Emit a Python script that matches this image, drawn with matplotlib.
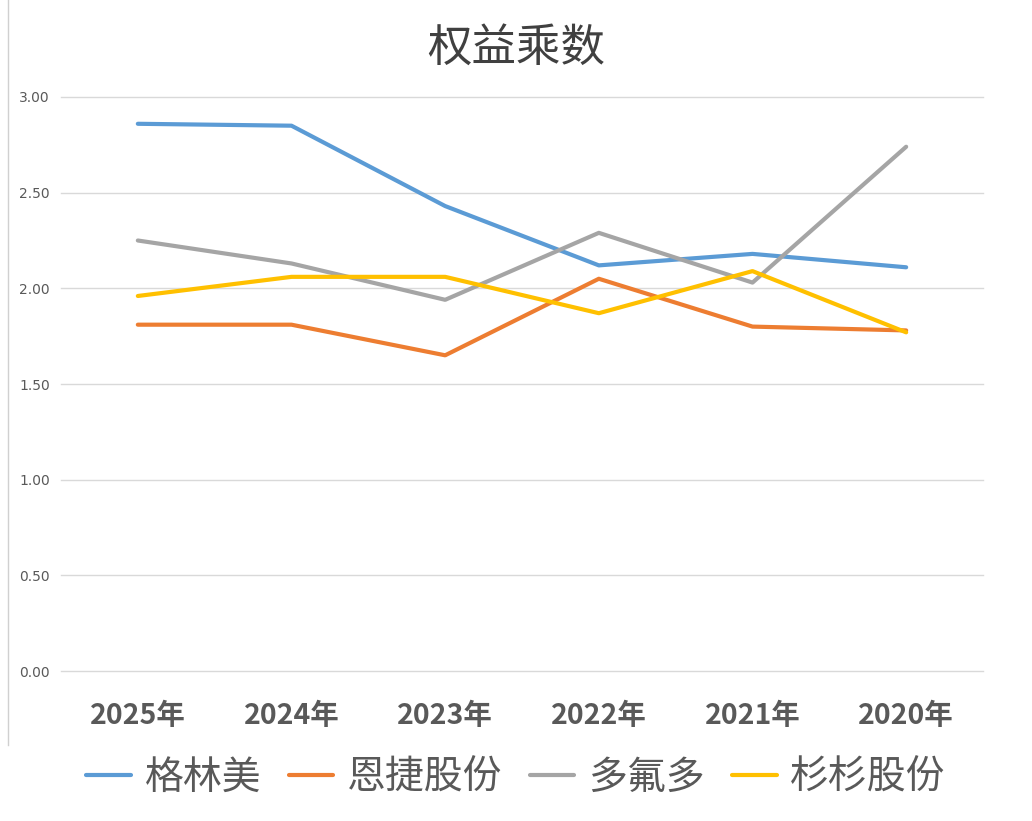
import matplotlib
matplotlib.use("Agg")
import matplotlib.pyplot as plt

plt.rcParams['font.family'] = ['Noto Sans CJK SC', 'DejaVu Sans']

years = ["2025年", "2024年", "2023年", "2022年", "2021年", "2020年"]
series_names = ["格林美", "恩捷股份", "多氟多", "杉杉股份"]
gem = [2.86, 2.85, 2.43, 2.12, 2.18, 2.11]
enjie = [1.81, 1.81, 1.65, 2.05, 1.80, 1.78]
dfd = [2.25, 2.13, 1.94, 2.29, 2.03, 2.74]
shanshan = [1.96, 2.06, 2.06, 1.87, 2.09, 1.77]
colors = ["#5B9BD5", "#ED7D31", "#A5A5A5", "#FFC000"]
yticks = [0.0, 0.5, 1.0, 1.5, 2.0, 2.5, 3.0]

fig = plt.figure(figsize=(10.32, 8.21), dpi=100)
ax = fig.add_axes([61/1032, 1-671/821, (983-61)/1032, (671-97)/821])

x = list(range(len(years)))
for vals, name, c in zip([gem, enjie, dfd, shanshan], series_names, colors):
    ax.plot(x, vals, color=c, lw=3.0, label=name, solid_capstyle='round', solid_joinstyle='round', zorder=3)

ax.set_xlim(-0.5, len(years) - 0.5)
ax.set_ylim(0, 3.0)
ax.set_yticks(yticks)
ax.set_yticklabels([f"{v:.2f}" for v in yticks], fontsize=10, color="#595959", family=['DejaVu Sans'])
ax.set_xticks(x)
ax.set_xticklabels(years, fontsize=20.5, fontweight='bold', color="#595959")
ax.tick_params(axis='both', length=0)
ax.tick_params(axis='y', pad=8)
ax.tick_params(axis='x', pad=22)
for s in ax.spines.values():
    s.set_visible(False)
ax.grid(axis='y', color="#D9D9D9", lw=1.0, zorder=0)
for gl in ax.get_ygridlines():
    gl.set_clip_on(False)
ax.set_axisbelow(True)

fig.text(0.5, 1-48/821, "权益乘数", ha='center', va='center', fontsize=32, color="#404040")

fig.legend(loc='center', bbox_to_anchor=(0.5, 1-778/821), ncol=4, frameon=False,
           fontsize=28, handlelength=1.15, handletextpad=0.35, columnspacing=0.7,
           labelcolor="#595959")

fig.add_artist(plt.Line2D([8/1032, 8/1032], [1-745/821, 1.0], color="#D0D0D0", lw=1.0))

fig.savefig("out.png", dpi=100, facecolor="white")
